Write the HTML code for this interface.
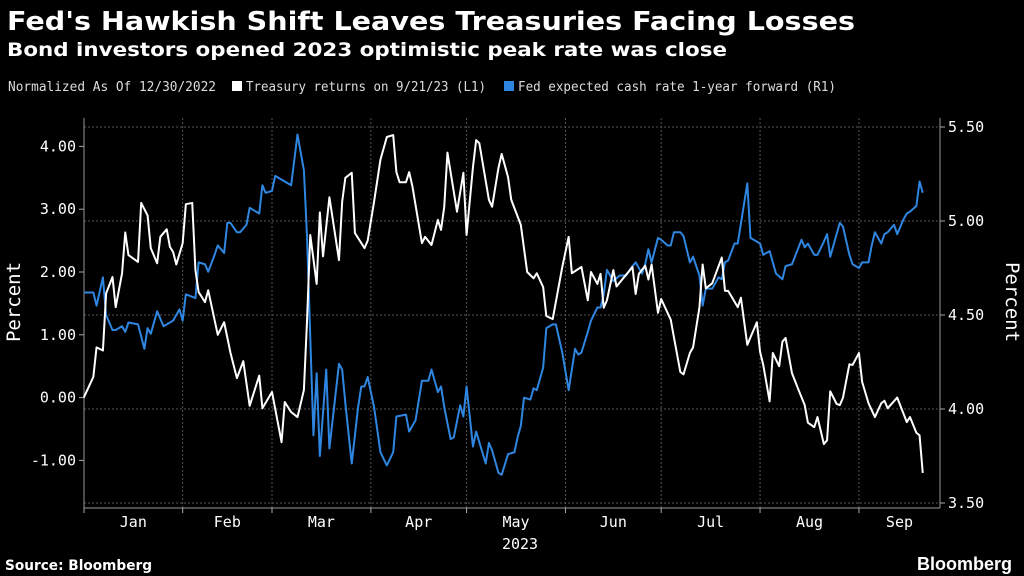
<!DOCTYPE html>
<html><head><meta charset="utf-8">
<style>
body{margin:0;background:#000;width:1024px;height:576px;overflow:hidden;font-family:"DejaVu Sans Mono","Liberation Mono",monospace;color:#fff}
</style></head><body>
<svg id="c" width="1024" height="576" style="position:absolute;left:0;top:0">
<text x="7" y="30" font-family="DejaVu Sans, sans-serif" font-weight="bold" font-size="26" fill="#fff" textLength="848" lengthAdjust="spacingAndGlyphs">Fed's Hawkish Shift Leaves Treasuries Facing Losses</text>
<text x="7" y="56" font-family="DejaVu Sans, sans-serif" font-weight="bold" font-size="19" fill="#fff" textLength="720" lengthAdjust="spacingAndGlyphs">Bond investors opened 2023 optimistic peak rate was close</text>
<g font-family="DejaVu Sans Mono, monospace" font-size="13" fill="#ddd">
<text x="8" y="91" textLength="208" lengthAdjust="spacingAndGlyphs">Normalized As Of 12/30/2022</text>
<rect x="232" y="81" width="10" height="10" fill="#fff"/>
<text x="246" y="91" textLength="240" lengthAdjust="spacingAndGlyphs">Treasury returns on 9/21/23 (L1)</text>
<rect x="504" y="81" width="10" height="10" fill="#2f86e0"/>
<text x="518" y="91" textLength="318" lengthAdjust="spacingAndGlyphs">Fed expected cash rate 1-year forward (R1)</text>
</g>
<text transform="translate(20,302) rotate(-90)" text-anchor="middle" font-family="DejaVu Sans Mono, monospace" font-size="19" fill="#fff">Percent</text>
<text transform="translate(1006,302) rotate(90)" text-anchor="middle" font-family="DejaVu Sans Mono, monospace" font-size="19" fill="#fff">Percent</text>
<text x="520" y="549" text-anchor="middle" font-size="15" fill="#fff">2023</text>
<text x="5" y="570" font-family="DejaVu Sans, sans-serif" font-size="14" font-weight="bold" fill="#fff" textLength="147" lengthAdjust="spacingAndGlyphs">Source: Bloomberg</text>
<text x="1012" y="570" text-anchor="end" font-family="Liberation Sans, sans-serif" font-size="18" font-weight="bold" fill="#fff">Bloomberg</text>
<g id="g" font-family="DejaVu Sans Mono, monospace"></g>
</svg>
<script>
const leftTicks=[4,3,2,1,0,-1];
const leftLabels=["4.00","3.00","2.00","1.00","0.00","-1.00"];
const rightTicks=[5.5,5,4.5,4,3.5];
const rightLabels=["5.50","5.00","4.50","4.00","3.50"];
const months=["Jan","Feb","Mar","Apr","May","Jun","Jul","Aug","Sep"];
const monthStart=[2,33,61,92,122,153,183,214,245];
const tDays=[2,5,6,8,9,11,12,14,15,16,19,20,22,23,25,26,28,29,30,31,33,34,36,37,38,40,41,44,46,48,50,52,54,57,58,61,64,65,67,69,71,72,73,75,76,77,79,82,83,84,86,87,90,91,93,95,97,99,100,101,103,104,105,108,109,111,113,114,115,116,119,121,122,124,125,126,129,130,132,133,135,136,139,141,143,144,146,147,149,152,154,155,158,160,161,163,164,165,166,168,169,174,175,176,178,179,180,182,183,186,187,189,190,192,193,195,196,197,199,202,203,204,207,208,210,213,214,215,217,218,220,221,222,224,226,228,229,231,232,234,235,236,238,239,240,242,243,245,246,248,250,252,253,254,257,260,261,263,264,265];
const tVals=[0.0,0.33,0.8,0.75,1.66,1.92,1.44,1.98,2.63,2.27,2.16,3.1,2.9,2.38,2.14,2.56,2.68,2.4,2.32,2.12,2.46,3.08,3.1,2.03,1.68,1.52,1.71,1.0,1.2,0.71,0.31,0.58,-0.13,0.35,-0.17,0.09,-0.71,-0.07,-0.23,-0.31,0.12,1.24,2.59,1.81,2.95,2.25,3.19,2.19,3.12,3.5,3.58,2.62,2.38,2.5,3.12,3.79,4.15,4.18,3.59,3.43,3.43,3.59,3.37,2.46,2.56,2.43,2.83,2.67,3.04,3.9,2.96,3.58,2.59,3.67,4.1,4.05,3.15,3.04,3.66,3.88,3.51,3.15,2.75,2.0,1.9,1.98,1.76,1.3,1.25,2.08,2.56,1.98,2.08,1.55,2.0,1.81,1.97,1.43,1.55,2.03,1.77,2.08,1.65,1.97,2.1,1.88,2.12,1.35,1.57,1.24,0.96,0.41,0.37,0.71,0.8,1.44,2.12,1.74,1.82,2.23,1.7,1.7,1.44,1.59,0.84,1.2,0.73,0.52,-0.06,0.71,0.5,0.89,0.95,0.39,0.13,-0.12,-0.4,-0.47,-0.31,-0.74,-0.68,0.1,-0.1,-0.12,0.0,0.53,0.52,0.71,0.25,-0.09,-0.31,-0.09,-0.05,-0.17,0.0,-0.39,-0.31,-0.56,-0.6,-1.2];
const fDays=[2,5,6,8,9,11,12,14,15,16,19,21,22,23,25,27,30,32,33,34,37,38,40,41,43,44,46,47,48,50,51,53,54,57,58,59,61,62,67,69,71,72,73,74,75,76,78,79,82,83,84,86,88,89,90,91,93,95,97,99,100,103,104,106,108,110,111,113,114,115,117,118,120,121,122,124,125,128,129,130,132,133,135,137,138,139,140,142,143,144,146,147,149,150,152,154,156,157,158,160,161,163,164,165,166,168,170,172,174,175,177,178,179,180,182,183,185,186,187,189,190,192,193,195,196,197,199,201,202,203,204,206,207,210,211,214,215,217,219,221,222,224,227,228,229,231,232,234,235,236,239,240,242,243,245,246,248,249,250,252,253,254,256,257,259,260,261,263,264,265];
const fVals=[4.62,4.62,4.55,4.70,4.50,4.42,4.42,4.44,4.41,4.46,4.45,4.32,4.43,4.40,4.52,4.44,4.47,4.53,4.47,4.61,4.59,4.78,4.77,4.73,4.82,4.87,4.83,4.99,4.99,4.94,4.94,4.98,5.07,5.04,5.19,5.15,5.16,5.24,5.19,5.46,5.27,4.91,4.38,3.86,4.19,3.75,4.21,3.79,4.24,4.21,4.03,3.71,4.01,4.12,4.12,4.17,4.01,3.77,3.70,3.77,3.96,3.97,3.88,3.94,4.15,4.15,4.21,4.09,4.12,4.01,3.84,3.85,4.02,3.96,4.12,3.80,3.88,3.71,3.82,3.78,3.66,3.65,3.76,3.77,3.85,3.91,4.06,4.05,4.11,4.10,4.22,4.43,4.45,4.45,4.30,4.10,4.32,4.29,4.30,4.41,4.47,4.54,4.54,4.61,4.74,4.68,4.71,4.71,4.76,4.78,4.72,4.77,4.85,4.78,4.91,4.90,4.87,4.87,4.94,4.94,4.92,4.78,4.81,4.71,4.55,4.64,4.64,4.70,4.69,4.78,4.79,4.88,4.88,5.20,4.91,4.88,4.82,4.84,4.72,4.69,4.76,4.77,4.90,4.86,4.88,4.82,4.82,4.89,4.93,4.81,4.99,4.97,4.82,4.77,4.75,4.78,4.78,4.87,4.94,4.88,4.93,4.94,4.98,4.93,5.01,5.04,5.05,5.08,5.21,5.15];

const NS='http://www.w3.org/2000/svg';
const g=document.getElementById('g');
const X0=84,X1=940,Y0=118,Y1=508;
const xs=d=>77.4+3.19*d;
const yl=v=>397.6-62.8*v;
const yr=v=>221-188*(v-5);
function el(t,a){const e=document.createElementNS(NS,t);for(const k in a)e.setAttribute(k,a[k]);g.appendChild(e);return e;}

rightTicks.forEach((v,i)=>{
  const ln=el('line',{x1:X0,x2:X1,y1:yr(v),y2:yr(v),stroke:'#555','stroke-dasharray':'2,2'});
  
  
  const tk=el('line',{x1:X1,x2:X1+5,y1:yr(v),y2:yr(v),stroke:'#aaa'});
  
  
  const t=el('text',{x:X1+8,y:yr(v)+5,'font-size':15,fill:'#fff'});
  t.textContent=rightLabels[i];
  
  
});
leftTicks.forEach((v,i)=>{
  const tk=el('line',{x1:X0-5,x2:X0,y1:yl(v),y2:yl(v),stroke:'#aaa'});
  
  
  const t=el('text',{x:X0-8,y:yl(v)+5,'font-size':15,fill:'#fff','text-anchor':'end'});
  t.textContent=leftLabels[i];
  
  
});
monthStart.forEach((d,i)=>{
  const x=Math.max(xs(d),X0);
  if(i>0){const ln=el('line',{x1:x,x2:x,y1:Y0,y2:Y1,stroke:'#555','stroke-dasharray':'2,2'});
  
  }
  const tk=el('line',{x1:x,x2:x,y1:Y1,y2:Y1+5,stroke:'#aaa'});
  
  
  const next=i<8?xs(monthStart[i+1]):X1;
  const t=el('text',{x:(x+next)/2,y:527,'font-size':15,fill:'#fff','text-anchor':'middle'});
  t.textContent=months[i];
  
  
});
[[X0,Y0,X0,Y1],[X1,Y0,X1,Y1],[X0,Y1,X1,Y1]].forEach(a=>{
  const ln=el('line',{x1:a[0],y1:a[1],x2:a[2],y2:a[3],stroke:'#999'});
  
  
});
const fp=el('polyline',{points:fDays.map((d,i)=>xs(d)+','+yr(fVals[i])).join(' '),fill:'none',stroke:'#2f86e0','stroke-width':2,'stroke-linejoin':'round'});


const tp=el('polyline',{points:tDays.map((d,i)=>xs(d)+','+yl(tVals[i])).join(' '),fill:'none',stroke:'#fff','stroke-width':2,'stroke-linejoin':'round'});


</script>
</body></html>
